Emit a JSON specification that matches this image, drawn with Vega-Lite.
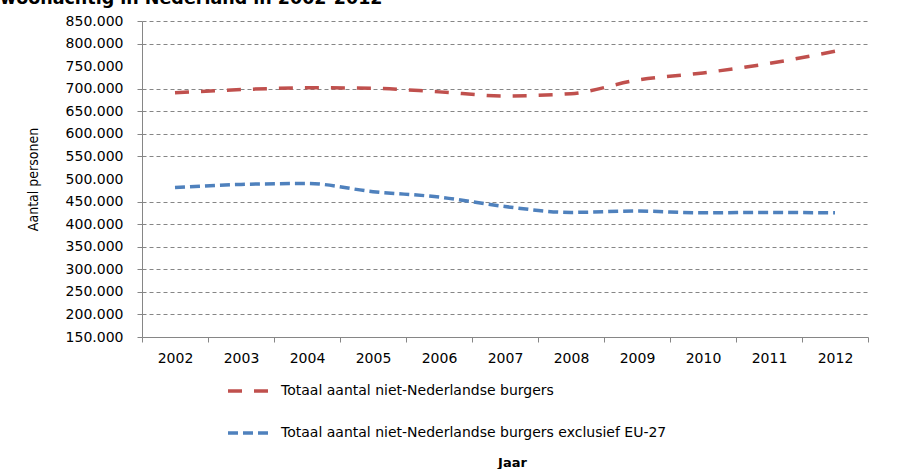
{
  "$schema": "https://vega.github.io/schema/vega-lite/v6.json",
  "autosize": {"type": "none"},
  "padding": {"left": 142, "top": 21, "right": 35, "bottom": 132},
  "width": 726,
  "height": 316,
  "background": "white",
  "title": {
    "text": "woonachtig in Nederland in 2002-2012",
    "anchor": "start",
    "frame": "group",
    "font": "DejaVu Sans",
    "fontSize": 17.5,
    "fontWeight": "bold",
    "color": "#000000",
    "baseline": "alphabetic",
    "offset": 0,
    "dx": -142,
    "dy": 7
  },
  "data": {
    "values": [
      {"jaar": "2002", "reeks": "Totaal aantal niet-Nederlandse burgers", "aantal": 691000},
      {"jaar": "2003", "reeks": "Totaal aantal niet-Nederlandse burgers", "aantal": 698000},
      {"jaar": "2004", "reeks": "Totaal aantal niet-Nederlandse burgers", "aantal": 702000},
      {"jaar": "2005", "reeks": "Totaal aantal niet-Nederlandse burgers", "aantal": 701000},
      {"jaar": "2006", "reeks": "Totaal aantal niet-Nederlandse burgers", "aantal": 693000},
      {"jaar": "2007", "reeks": "Totaal aantal niet-Nederlandse burgers", "aantal": 684000},
      {"jaar": "2008", "reeks": "Totaal aantal niet-Nederlandse burgers", "aantal": 689000},
      {"jaar": "2009", "reeks": "Totaal aantal niet-Nederlandse burgers", "aantal": 719000},
      {"jaar": "2010", "reeks": "Totaal aantal niet-Nederlandse burgers", "aantal": 735000},
      {"jaar": "2011", "reeks": "Totaal aantal niet-Nederlandse burgers", "aantal": 756000},
      {"jaar": "2012", "reeks": "Totaal aantal niet-Nederlandse burgers", "aantal": 783000},
      {"jaar": "2002", "reeks": "Totaal aantal niet-Nederlandse burgers exclusief EU-27", "aantal": 481000},
      {"jaar": "2003", "reeks": "Totaal aantal niet-Nederlandse burgers exclusief EU-27", "aantal": 488000},
      {"jaar": "2004", "reeks": "Totaal aantal niet-Nederlandse burgers exclusief EU-27", "aantal": 490000},
      {"jaar": "2005", "reeks": "Totaal aantal niet-Nederlandse burgers exclusief EU-27", "aantal": 472000},
      {"jaar": "2006", "reeks": "Totaal aantal niet-Nederlandse burgers exclusief EU-27", "aantal": 460000},
      {"jaar": "2007", "reeks": "Totaal aantal niet-Nederlandse burgers exclusief EU-27", "aantal": 439000},
      {"jaar": "2008", "reeks": "Totaal aantal niet-Nederlandse burgers exclusief EU-27", "aantal": 426000},
      {"jaar": "2009", "reeks": "Totaal aantal niet-Nederlandse burgers exclusief EU-27", "aantal": 429000},
      {"jaar": "2010", "reeks": "Totaal aantal niet-Nederlandse burgers exclusief EU-27", "aantal": 425000},
      {"jaar": "2011", "reeks": "Totaal aantal niet-Nederlandse burgers exclusief EU-27", "aantal": 426000},
      {"jaar": "2012", "reeks": "Totaal aantal niet-Nederlandse burgers exclusief EU-27", "aantal": 425000}
    ]
  },
  "mark": {"type": "line", "interpolate": "monotone", "strokeWidth": 3.5, "strokeCap": "butt"},
  "encoding": {
    "x": {
      "field": "jaar",
      "type": "ordinal",
      "bandPosition": 0.5,
      "scale": {"type": "band", "paddingInner": 0, "paddingOuter": 0},
      "axis": {
        "title": "Jaar",
        "titleFont": "DejaVu Sans",
        "titleFontSize": 13,
        "titleFontWeight": "bold",
        "titleColor": "#000000",
        "titleX": 370,
        "titleY": 125,
        "titleBaseline": "middle",
        "titleAnchor": null,
        "labelAngle": 0,
        "labelFont": "DejaVu Sans",
        "labelFontSize": 14,
        "labelColor": "#000000",
        "labelPadding": 9,
        "tickBand": "extent",
        "tickSize": 5,
        "tickColor": "#868686",
        "domainColor": "#868686",
        "grid": false
      }
    },
    "y": {
      "field": "aantal",
      "type": "quantitative",
      "scale": {"domain": [150000, 850000], "nice": false, "zero": false},
      "axis": {
        "title": "Aantal personen",
        "titleFont": "Liberation Sans Narrow, Arial Narrow, DejaVu Sans Condensed, sans-serif",
        "titleFontSize": 14,
        "titleFontWeight": "normal",
        "titleColor": "#000000",
        "titleAngle": -90,
        "titleX": -109,
        "titleY": 158,
        "titleBaseline": "middle",
        "titleAnchor": null,
        "values": [150000, 200000, 250000, 300000, 350000, 400000, 450000, 500000, 550000, 600000, 650000, 700000, 750000, 800000, 850000],
        "labelExpr": "format(datum.value / 1000, 'd') + '.000'",
        "labelFont": "DejaVu Sans",
        "labelFontSize": 14,
        "labelColor": "#000000",
        "labelPadding": 14,
        "tickSize": 5,
        "tickColor": "#868686",
        "tickOpacity": {"condition": {"test": "datum.value == 750000 || datum.value == 500000", "value": 0}, "value": 1},
        "domainColor": "#868686",
        "grid": true,
        "gridColor": "#868686",
        "gridDash": [4, 3],
        "gridWidth": 1,
        "gridOpacity": {"condition": {"test": "datum.value == 750000 || datum.value == 500000 || datum.value == 150000", "value": 0}, "value": 1}
      }
    },
    "color": {
      "field": "reeks",
      "type": "nominal",
      "scale": {
        "domain": ["Totaal aantal niet-Nederlandse burgers", "Totaal aantal niet-Nederlandse burgers exclusief EU-27"],
        "range": ["#C0504D", "#4F81BD"]
      },
      "legend": {
        "title": null,
        "orient": "none",
        "legendX": 84,
        "legendY": 346,
        "direction": "vertical",
        "padding": 0,
        "rowPadding": 11,
        "symbolType": "stroke",
        "symbolSize": 1936,
        "symbolStrokeWidth": 3.5,
        "labelFont": "DejaVu Sans",
        "labelFontSize": 14,
        "labelColor": "#000000",
        "labelOffset": 7,
        "labelLimit": 0
      }
    },
    "strokeDash": {
      "field": "reeks",
      "type": "nominal",
      "scale": {
        "domain": ["Totaal aantal niet-Nederlandse burgers", "Totaal aantal niet-Nederlandse burgers exclusief EU-27"],
        "range": [[14, 12], [10, 5]]
      },
      "legend": null
    }
  },
  "config": {
    "view": {"stroke": null}
  }
}
